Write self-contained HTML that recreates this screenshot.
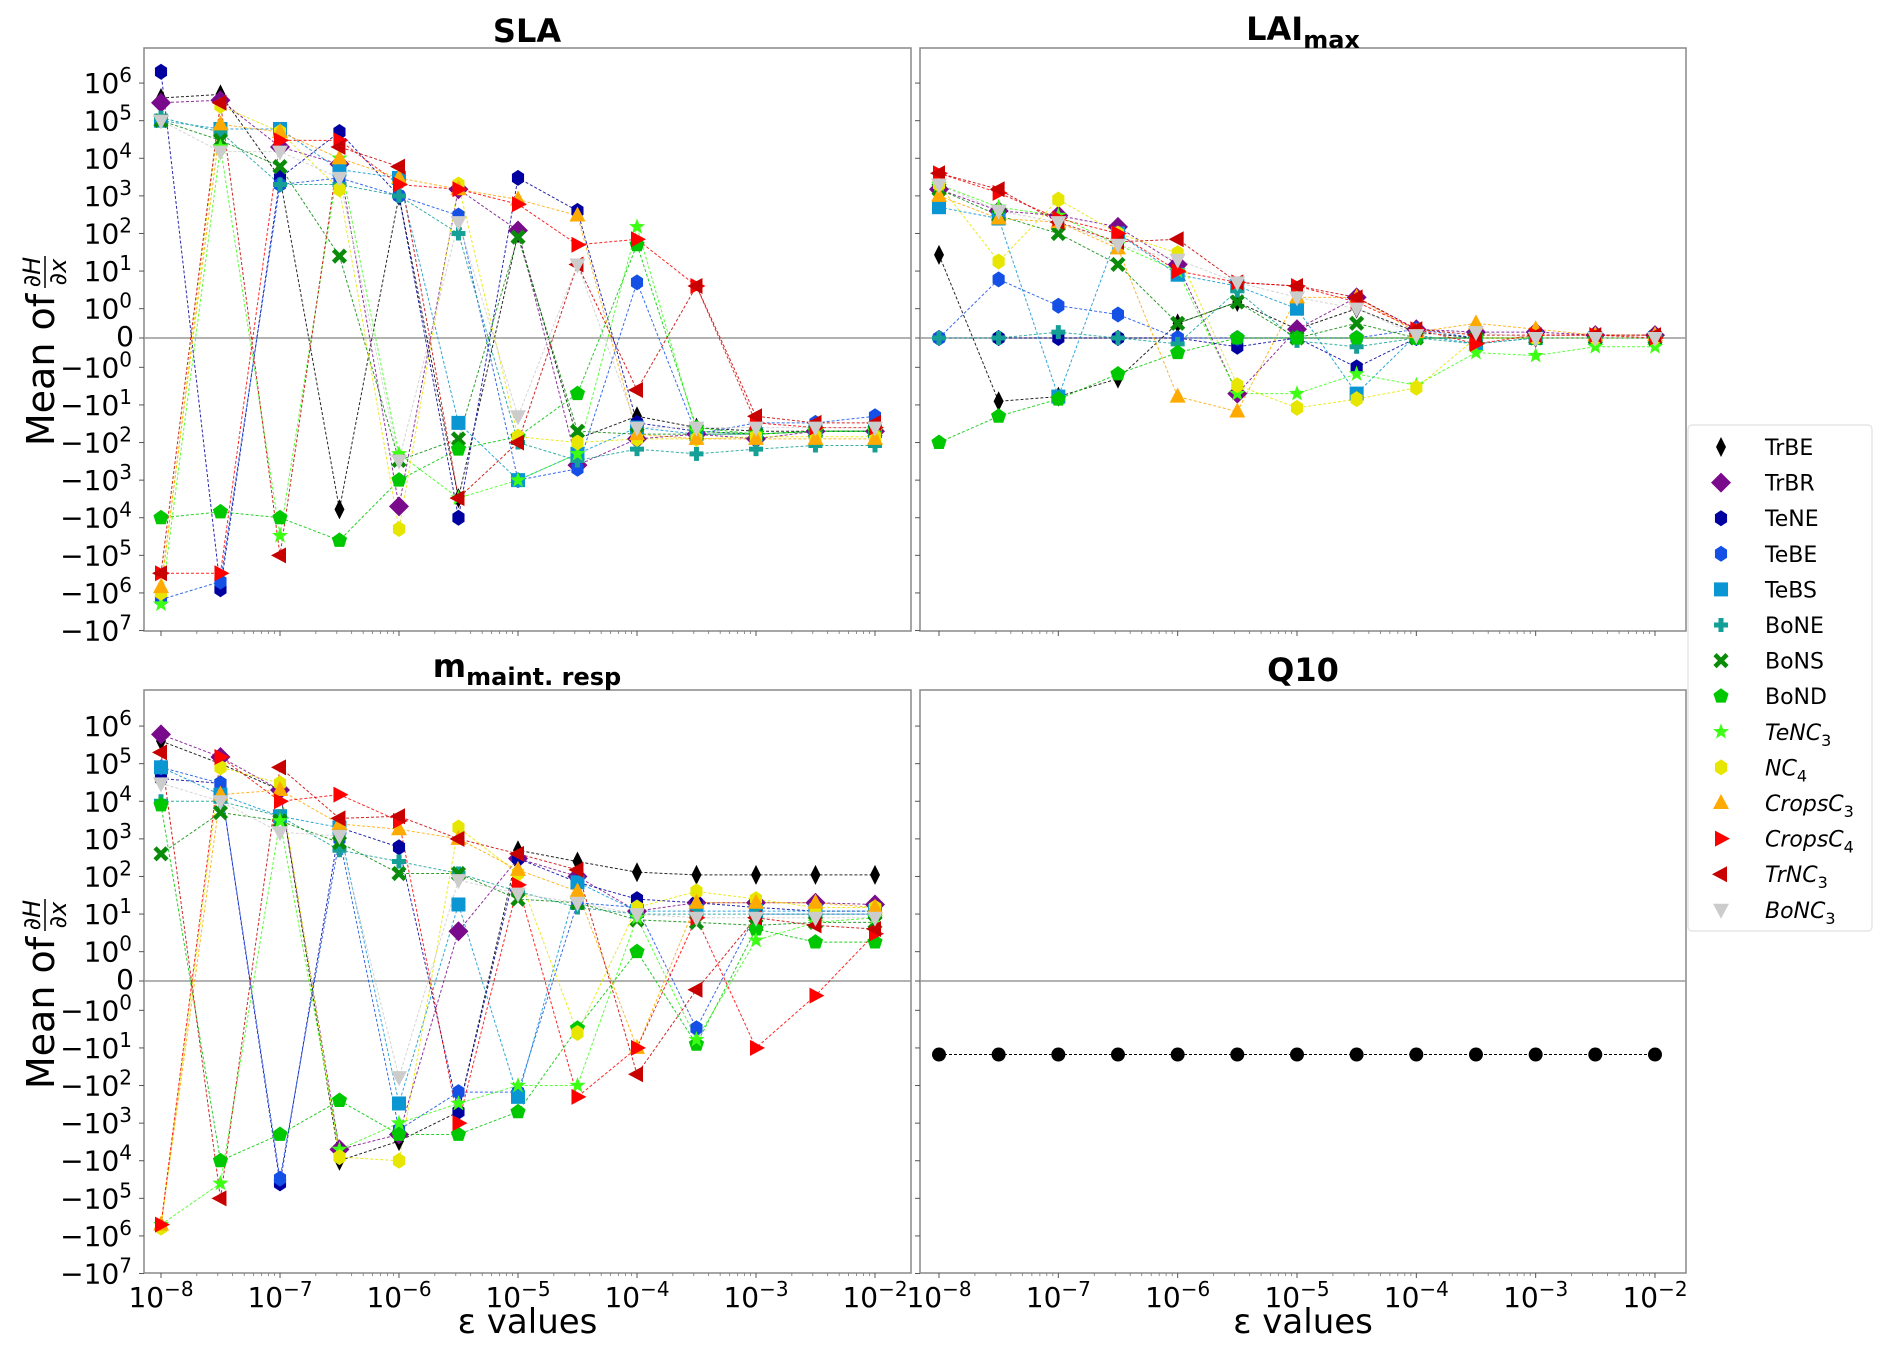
<!DOCTYPE html>
<html><head><meta charset="utf-8"><style>
html,body{margin:0;padding:0;background:#fff;}
svg{display:block;font-family:"DejaVu Sans","Liberation Sans",sans-serif;}
</style></head><body>
<svg id="chart" width="1892" height="1354" viewBox="0 0 1892 1354" xmlns="http://www.w3.org/2000/svg"></svg>
<script>
const epsValues = [1e-8,3.16e-8,1e-7,3.16e-7,1e-6,3.16e-6,1e-5,3.16e-5,1e-4,3.16e-4,1e-3,3.16e-3,1e-2];
const xTickLabels = ["−8","−7","−6","−5","−4","−3","−2"];
const yTickExps = [6,5,4,3,2,1,0];
const pftNames = ["TrBE","TrBR","TeNE","TeBE","TeBS","BoNE","BoNS","BoND","TeNC","NC","CropsC","CropsC","TrNC","BoNC"];
const pftSubs = ["","","","","","","","","3","4","3","4","3","3"];
const pftColors = ["#000000","#7a0a8c","#0000a0","#1450e6","#0a96d2","#14a096","#0a8c0a","#00c800","#3cff14","#e6e600","#ffaa00","#ff0000","#c80000","#cccccc"];
const pftMarkers = ["thin_diamond","diamond","hexagon","hexagon","square","plus","x","pentagon","star","hexagon","tri_up","tri_right","tri_left","tri_down"];

const slaTrBE=[4e5,5e5,3e3,-6e3,1e3,-3e3,1e2,-80,-20,-40,-50,-50,-50];
const slaTrBR=[3e5,3.5e5,2e4,7e3,-5e3,1.5e3,1.2e2,-400,-80,-60,-80,-50,-50];
const slaTeNE=[2e6,-8e5,3e3,5e4,1e3,-1e4,3e3,4e2,-30,-50,-60,-50,-50];
const slaTeBE=[-1.5e6,-5e5,2e3,3e3,1e3,3e2,-1e3,-500,5,-60,-30,-30,-20];
const slaTeBS=[1e5,6e4,6e4,5e3,3e3,-30,-1e3,-200,-40,-60,-60,-50,-50];
const slaBoNE=[1.2e5,5e4,2e3,2e3,1e3,1e2,-100,-300,-150,-200,-150,-120,-120];
const slaBoNS=[1e5,3e4,6e3,25,-300,-80,80,-50,-60,-60,-60,-50,-50];
const slaBoND=[-1e4,-7e3,-1e4,-4e4,-1e3,-150,-70,-5,50,-40,-60,-50,-50];
const slaTeNC3=[-2e6,2e4,-3e4,1e4,-200,-3e3,-1e3,-200,150,-50,-60,-50,-50];
const slaNC4=[-1e6,2.5e5,5e4,1.5e3,-2e4,2e3,-70,-100,-80,-80,-70,-70,-70];
const slaCropsC3=[-7e5,8e4,5e4,1e4,3e3,1.5e3,8e2,3e2,-60,-80,-80,-80,-80];
const slaCropsC4=[-3e5,-3e5,3e4,3e4,2e3,1.5e3,6e2,50,70,4,-30,-40,-40];
const slaTrNC3=[-3e5,3e5,-1e5,2e4,6e3,-3e3,-100,15,-4,4,-20,-30,-30];
const slaBoNC3=[1e5,1.5e4,1.5e4,3e3,-300,2e2,-20,15,-40,-40,-40,-40,-40];

const laiTrBE=[27,-8,-6,-2,0.5,1.5,0.3,1,0.2,0,0,0,0];
const laiTrBR=[1.5e3,4e2,3e2,1.5e2,15,-5,0.3,2,0.3,0.2,0.2,0.1,0.1];
const laiTeNE=[0,0,0,0,0,-0.3,0,-1,0,0,0,0,0];
const laiTeBE=[0,6,1.2,0.8,0,0,0,0,0.3,0,0,0,0];
const laiTeBS=[5e2,2.5e2,-6,1e2,8,4,1,-5,0.1,-0.2,0,0,0];
const laiBoNE=[0,0,0.2,0,-0.2,3,-0.1,-0.3,0,-0.2,0,0,0];
const laiBoNS=[1.5e3,3e2,1e2,15,0.5,1.5,0,0.5,0,0,0,0,0];
const laiBoND=[-1e2,-20,-7,-1.5,-0.5,0,0,0,0,0,0,0,0];
const laiTeNC3=[2e3,5e2,3e2,50,10,-5,-5,-1.5,-3,-0.5,-0.6,-0.3,-0.3];
const laiNC4=[2e3,18,8e2,1e2,30,-3,-12,-7,-3.5,0,0,0,0];
const laiCropsC3=[1e3,2.5e2,2e2,40,-6,-15,2,2,0.2,0.5,0.3,0.1,0.1];
const laiCropsC4=[4e3,1.2e3,2.5e2,1e2,10,5,4,1.5,0.3,-0.2,0.1,0.1,0];
const laiTrNC3=[4e3,1.5e3,2e2,60,70,5,4,2,0.3,0.1,0.1,0.1,0.1];
const laiBoNC3=[2e3,4e2,2e2,50,20,5,2,1,0.1,0.2,0,0,0];

const mrTrBE=[4e5,1e5,2e4,-1e4,-3e3,-500,5e2,2.5e2,1.3e2,1.1e2,1.1e2,1.1e2,1.1e2];
const mrTrBR=[6e5,1.5e5,2e4,-5e3,-2e3,3.5,3e2,1e2,12,20,20,20,18];
const mrTeNE=[4e4,3e4,-4e4,2e3,6e2,-500,3e2,70,25,20,15,12,12];
const mrTeBE=[8e4,3e4,-3e4,1e3,-1.5e3,-150,-150,20,15,-3,10,10,10];
const mrTeBS=[8e4,1.5e4,4e3,2e3,-300,18,-200,70,12,12,12,12,12];
const mrBoNE=[1e4,1e4,4e3,5e2,2.5e2,1.2e2,40,15,10,10,10,10,10];
const mrBoNS=[4e2,5e3,3e3,8e2,1.2e2,1.2e2,25,20,7,6,5,6,6];
const mrBoND=[8e3,-1e4,-2e3,-250,-2e3,-2e3,-500,-3,1,-8,4,1.8,1.8];
const mrTeNC3=[-5e5,-4e4,3e3,-5e3,-1e3,-300,-100,-100,8,-6,2,6,8];
const mrNC4=[-6e5,8e4,3e4,-8e3,-1e4,2e3,1.2e2,-4,15,40,25,15,15];
const mrCropsC3=[-5e5,1.5e4,2e4,2.5e3,1.8e3,1e3,1.5e2,40,-10,20,20,20,15];
const mrCropsC4=[-5e5,1.5e5,1e4,1.5e4,3e3,-1e3,60,-200,-10,8,-10,-0.5,3];
const mrTrNC3=[2e5,-1e5,8e4,3.5e3,4e3,1e3,4e2,1.5e2,-50,-0.3,8,5,4];
const mrBoNC3=[3e4,1e4,1.5e3,1.2e3,-60,80,35,20,10,8,8,8,8];

const q10Values=[-15,-15,-15,-15,-15,-15,-15,-15,-15,-15,-15,-15,-15];

const slaSeries=[slaTrBE,slaTrBR,slaTeNE,slaTeBE,slaTeBS,slaBoNE,slaBoNS,slaBoND,slaTeNC3,slaNC4,slaCropsC3,slaCropsC4,slaTrNC3,slaBoNC3];
const laiSeries=[laiTrBE,laiTrBR,laiTeNE,laiTeBE,laiTeBS,laiBoNE,laiBoNS,laiBoND,laiTeNC3,laiNC4,laiCropsC3,laiCropsC4,laiTrNC3,laiBoNC3];
const mrSeries=[mrTrBE,mrTrBR,mrTeNE,mrTeBE,mrTeBS,mrBoNE,mrBoNS,mrBoND,mrTeNC3,mrNC4,mrCropsC3,mrCropsC4,mrTrNC3,mrBoNC3];

const NS="http://www.w3.org/2000/svg";
const svg=document.getElementById('chart');
function mk(tag,attrs,parent){const e=document.createElementNS(NS,tag);for(const k in attrs)e.setAttribute(k,attrs[k]);(parent||svg).appendChild(e);return e;}

const LIN=0.78, DEC=37.6;
function symf(v){const a=Math.abs(v);const s=v<0?-1:1;return a<=1?s*a*LIN:s*(LIN+Math.log10(a));}

function makePanel(name,x0,x1,y0,y1,ymid,xFirst,xLast,showYLabels,showXLabels){
  const g=mk('g',{});
  
  
  const xs=v=>xFirst+(Math.log10(v)+8)/6*(xLast-xFirst);
  const ys=v=>ymid-symf(v)*DEC;
  mk('rect',{x:x0,y:y0,width:x1-x0,height:y1-y0,fill:'none',stroke:'#888','stroke-width':1.5},g);
  const zl=mk('line',{x1:x0,x2:x1,y1:ymid,y2:ymid,stroke:'#999','stroke-width':1.5},g);
  
  
  for(let d=-8;d<=-2;d++){
    const x=xs(Math.pow(10,d));
    mk('line',{x1:x,x2:x,y1:y1,y2:y1+5,stroke:'#555','stroke-width':1},g);
    if(d<-2)for(let m=2;m<10;m++){const xm=xs(m*Math.pow(10,d));mk('line',{x1:xm,x2:xm,y1:y1,y2:y1+3,stroke:'#777','stroke-width':0.8},g);}
  }
  if(showXLabels){
    xTickLabels.forEach((lab,i)=>{
      const x=xs(Math.pow(10,i-8));
      const t=mk('text',{x:x,y:y1+34,'font-size':28,'text-anchor':'middle',fill:'#000'},g);
      
      
      t.appendChild(document.createTextNode('10'));
      const s=mk('tspan',{dy:-11,'font-size':20},t);s.textContent=lab;
    });
    const xt=mk('text',{x:(x0+x1)/2,y:y1+60,'font-size':34,'text-anchor':'middle',fill:'#000'},g);
    
    
    xt.textContent='ε values';
  }
  const allTicks=[];
  yTickExps.forEach(k=>{allTicks.push([Math.pow(10,k),''+k,'']);allTicks.push([-Math.pow(10,k),''+k,'−']);});
  allTicks.push([-1e7,'7','−']);
  allTicks.forEach(tk=>{
    const y=ys(tk[0]);
    mk('line',{x1:x0-5,x2:x0,y1:y,y2:y,stroke:'#555','stroke-width':1},g);
    if(showYLabels){
      const t=mk('text',{x:x0-8,y:y+10,'font-size':28,'text-anchor':'end',fill:'#000'},g);
      
      
      t.appendChild(document.createTextNode(tk[2]+'10'));
      const s=mk('tspan',{dy:-11,'font-size':20},t);s.textContent=tk[1];
      const pad=mk('tspan',{dy:11,'font-size':20},t);pad.textContent='\u2009';
    }
  });
  mk('line',{x1:x0-5,x2:x0,y1:ymid,y2:ymid,stroke:'#555','stroke-width':1},g);
  if(showYLabels){
    const t=mk('text',{x:x0-10,y:ymid+8,'font-size':28,'text-anchor':'end',fill:'#000'},g);
    
    
    t.textContent='0';
    const yg=mk('g',{transform:`translate(${x0-90},${ymid+10}) rotate(-90)`},g);
    
    
    const m=mk('text',{x:-22,y:0,'font-size':38,'text-anchor':'middle',fill:'#000'},yg);
    m.textContent='Mean of';
    const n=mk('text',{x:76,y:-14,'font-size':24,'text-anchor':'middle','font-style':'italic',fill:'#000'},yg);
    n.textContent='∂H';
    mk('line',{x1:60,x2:92,y1:-9,y2:-9,stroke:'#000','stroke-width':1.5},yg);
    const d=mk('text',{x:76,y:12,'font-size':24,'text-anchor':'middle','font-style':'italic',fill:'#000'},yg);
    d.textContent='∂x';
  }
  return {g,xs,ys};
}

function marker(g,type,x,y,color){
  let e;
  switch(type){
    case 'thin_diamond':e=mk('polygon',{points:`${x},${y-10} ${x+5},${y} ${x},${y+10} ${x-5},${y}`,fill:color},g);break;
    case 'diamond':e=mk('polygon',{points:`${x},${y-10} ${x+10},${y} ${x},${y+10} ${x-10},${y}`,fill:color},g);break;
    case 'hexagon':{let p=[];for(let i=0;i<6;i++){const a=Math.PI/6+i*Math.PI/3;p.push((x+7*Math.cos(a))+','+(y+8*Math.sin(a)));}e=mk('polygon',{points:p.join(' '),fill:color},g);break;}
    case 'square':e=mk('rect',{x:x-7,y:y-7,width:14,height:14,fill:color},g);break;
    case 'plus':e=mk('path',{d:`M${x-7},${y}H${x+7}M${x},${y-7}V${y+7}`,stroke:color,'stroke-width':5},g);break;
    case 'x':e=mk('path',{d:`M${x-6},${y-6}L${x+6},${y+6}M${x+6},${y-6}L${x-6},${y+6}`,stroke:color,'stroke-width':4.5},g);break;
    case 'pentagon':{let p=[];for(let i=0;i<5;i++){const a=-Math.PI/2+i*2*Math.PI/5;p.push((x+8*Math.cos(a))+','+(y+8*Math.sin(a)));}e=mk('polygon',{points:p.join(' '),fill:color},g);break;}
    case 'star':{let p=[];for(let i=0;i<10;i++){const a=-Math.PI/2+i*Math.PI/5;const r=i%2?3.5:8.5;p.push((x+r*Math.cos(a))+','+(y+r*Math.sin(a)));}e=mk('polygon',{points:p.join(' '),fill:color},g);break;}
    case 'tri_up':e=mk('polygon',{points:`${x},${y-9} ${x+8},${y+6} ${x-8},${y+6}`,fill:color},g);break;
    case 'tri_down':e=mk('polygon',{points:`${x},${y+9} ${x+8},${y-6} ${x-8},${y-6}`,fill:color},g);break;
    case 'tri_right':e=mk('polygon',{points:`${x+9},${y} ${x-6},${y-8} ${x-6},${y+8}`,fill:color},g);break;
    case 'tri_left':e=mk('polygon',{points:`${x-9},${y} ${x+6},${y-8} ${x+6},${y+8}`,fill:color},g);break;
    case 'circle':e=mk('circle',{cx:x,cy:y,r:7,fill:color},g);break;
  }
  return e;
}

function drawSeries(panel,seriesList,pname){
  seriesList.forEach((vals,si)=>{
    const col=pftColors[si];
    const pts=vals.map((v,i)=>[panel.xs(epsValues[i]),panel.ys(v)]);
    const ln=mk('polyline',{points:pts.map(p=>p.join(',')).join(' '),fill:'none',stroke:col,'stroke-width':1,'stroke-dasharray':'3,2',opacity:0.85},panel.g);
    
    
  });
  seriesList.forEach((vals,si)=>{
    vals.forEach((v,i)=>{
      const m=marker(panel.g,pftMarkers[si],panel.xs(epsValues[i]),panel.ys(v),pftColors[si]);
      
      
    });
  });
}

const pSLA=makePanel('sla',144,911,48,631,338,161,875,true,false);
drawSeries(pSLA,slaSeries,'sla');
const pLAI=makePanel('lai-max',920,1686,48,631,338,939,1655,false,false);
drawSeries(pLAI,laiSeries,'lai');
const pMR=makePanel('maint-resp',144,911,690,1273,981,161,875,true,true);
drawSeries(pMR,mrSeries,'mr');
const pQ=makePanel('q10',920,1686,690,1273,981,939,1655,false,true);
const qln=mk('polyline',{points:q10Values.map((v,i)=>pQ.xs(epsValues[i])+','+pQ.ys(v)).join(' '),fill:'none',stroke:'#000','stroke-width':1,'stroke-dasharray':'3,2'},pQ.g);


q10Values.forEach((v,i)=>{
  const m=marker(pQ.g,'circle',pQ.xs(epsValues[i]),pQ.ys(v),'#000');
  
  
});

function title(x,y,main,sub,name){
  const t=mk('text',{x:x,y:y,'font-size':32,'font-weight':'bold','text-anchor':'middle',fill:'#000'});
  
  
  t.appendChild(document.createTextNode(main));
  if(sub){const s=mk('tspan',{dy:8,'font-size':24},t);s.textContent=sub;}
}
title(527,42,'SLA','','sla-title');
title(1303,40,'LAI','max','lai-max-title');
title(527,677,'m','maint. resp','maint-resp-title');
title(1303,681,'Q10','','q10-title');

const lg=mk('g',{});


mk('rect',{x:1688,y:425,width:184,height:506,rx:4,fill:'#fff',stroke:'#e0e0e0','stroke-width':1.2},lg);
pftNames.forEach((n,i)=>{
  const y=447+i*35.6;
  const e=mk('g',{},lg);
  
  
  marker(e,pftMarkers[i],1721,y,pftColors[i]);
  const t=mk('text',{x:1765,y:y+8,'font-size':22,fill:'#000','font-style':pftSubs[i]?'italic':'normal'},e);
  t.appendChild(document.createTextNode(n));
  if(pftSubs[i]){const s=mk('tspan',{dy:6,'font-size':16,'font-style':'normal'},t);s.textContent=pftSubs[i];}
});
</script>
</body></html>
